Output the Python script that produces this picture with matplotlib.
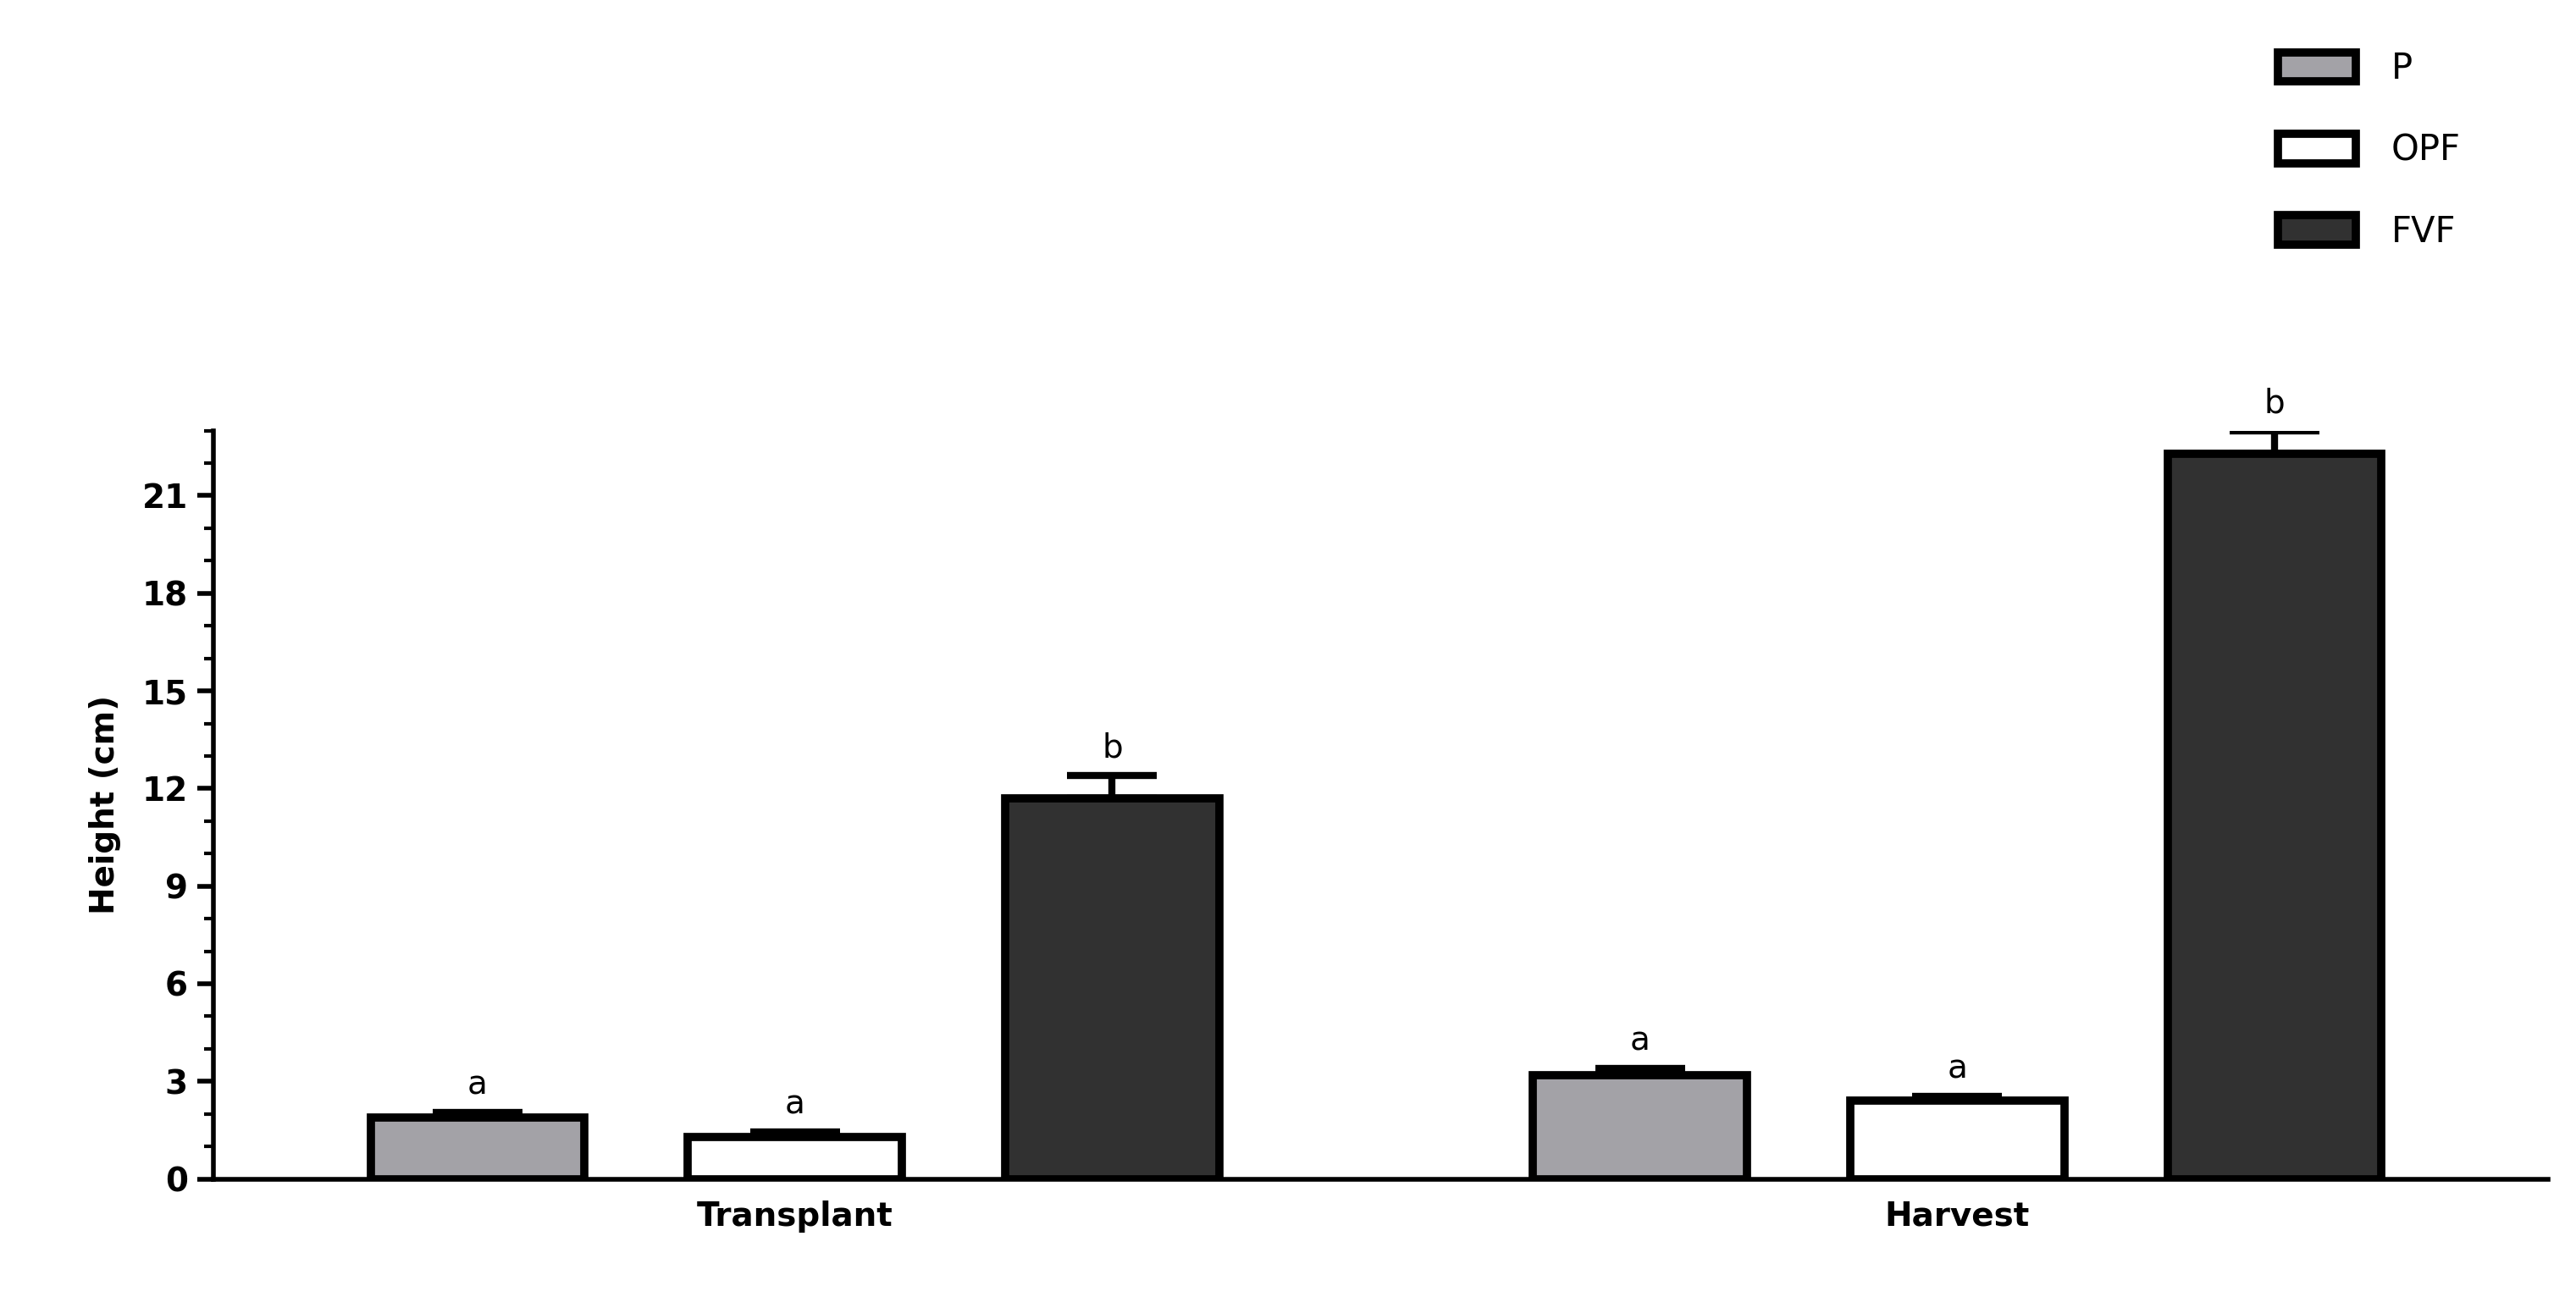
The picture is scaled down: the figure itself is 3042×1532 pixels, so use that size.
import matplotlib
matplotlib.use("Agg")
import matplotlib.pyplot as plt
import numpy as np
from matplotlib.patches import Patch
from matplotlib.ticker import MultipleLocator

groups = ["Transplant", "Harvest"]
series = ["P", "OPF", "FVF"]
values = {"P": [1.9, 3.2], "OPF": [1.3, 2.4], "FVF": [11.7, 22.3]}
errors = {"P": [0.15, 0.2], "OPF": [0.15, 0.15], "FVF": [0.7, 0.7]}
letters = {"P": ["a", "a"], "OPF": ["a", "a"], "FVF": ["b", "b"]}
colors = {"P": "#a3a2a7", "OPF": "#ffffff", "FVF": "#313131"}

fig = plt.figure(figsize=(30.42, 15.32), dpi=100)
ax = fig.add_axes([0.083, 0.091, 0.906, 0.577])
offsets = [-0.273, 0.0, 0.273]
w = 0.184
x = np.arange(len(groups))
for s, off in zip(series, offsets):
    ax.bar(x + off, values[s], w, color=colors[s], edgecolor="black", linewidth=7, zorder=3)
    ax.errorbar(x + off, values[s], yerr=[np.zeros(2), errors[s]], fmt="none",
                ecolor="black", elinewidth=6, capsize=38, capthick=6, zorder=2)
    for xi, v, e, l in zip(x + off, values[s], errors[s], letters[s]):
        ax.text(xi, v + e + 0.35, l, ha="center", va="bottom", fontsize=28)

ax.set_xlim(-0.5, 1.508)
ax.set_ylim(0, 23)
ax.yaxis.set_major_locator(MultipleLocator(3))
ax.yaxis.set_minor_locator(MultipleLocator(1))
ax.set_xticks(x)
ax.set_xticklabels(groups, fontsize=28, fontweight="bold")
ax.tick_params(axis="x", length=0, pad=18)
ax.tick_params(axis="y", which="major", length=14, width=4, labelsize=28, pad=8)
ax.tick_params(axis="y", which="minor", length=8, width=3)
for t in ax.get_yticklabels():
    t.set_fontweight("bold")
ax.set_ylabel("Height (cm)", fontsize=28, fontweight="bold", labelpad=18)
for sp in ["top", "right"]:
    ax.spines[sp].set_visible(False)
for sp in ["left", "bottom"]:
    ax.spines[sp].set_linewidth(4)

handles = [Patch(facecolor=colors[s], edgecolor="black", linewidth=7) for s in series]
fig.legend(handles, series, loc="upper left", bbox_to_anchor=(0.872, 0.985), frameon=False,
           fontsize=30, handlelength=2.2, handleheight=0.9, labelspacing=1.3, handletextpad=1.0)
fig.savefig("out.png", dpi=100)
